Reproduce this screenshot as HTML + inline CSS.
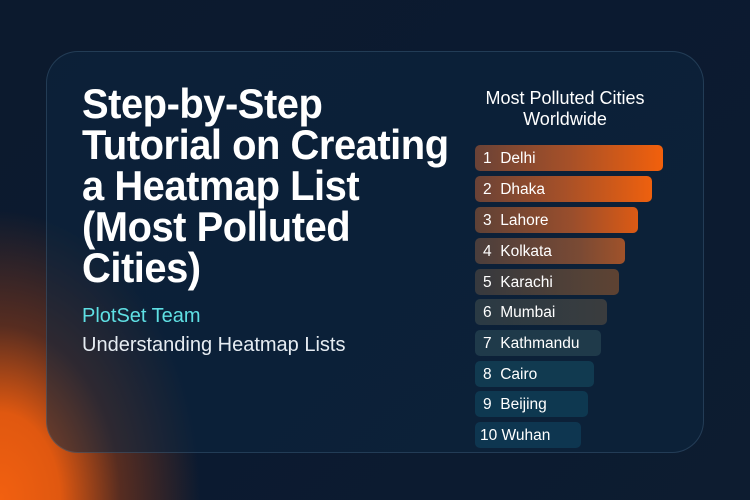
<!DOCTYPE html>
<html><head><meta charset="utf-8"><style>
body{margin:0;width:750px;height:500px;overflow:hidden;font-family:"Liberation Sans",sans-serif;
background:radial-gradient(ellipse 200px 290px at 0px 500px,#f26010 0%,#e05810 30%,rgba(150,60,20,0.55) 60%,rgba(12,26,46,0) 100%),linear-gradient(135deg,#0c1a2e,#0b1a30 50%,#0d1c30);position:relative}
.card{position:absolute;left:46px;top:51px;width:658px;height:402px;border-radius:32px;background:rgba(12,38,64,0.55);border:1px solid rgba(120,160,190,0.22);box-sizing:border-box}
h1{position:absolute;left:82px;top:83px;margin:0;color:#fff;font-size:42px;line-height:41px;font-weight:bold;letter-spacing:-0.5px;white-space:nowrap;transform:scaleX(0.95);transform-origin:0 0}
.team{position:absolute;left:82px;top:305px;color:#5fe0e4;font-size:20px}
.sub{position:absolute;left:82px;top:334px;color:#e6ecf2;font-size:20px}
.rt{position:absolute;left:455px;width:220px;top:88px;text-align:center;color:#fff;font-size:18px;line-height:21px}
.bar{position:absolute;left:475px;height:26px;border-radius:5px;color:#fff;font-size:15.5px;line-height:27px;padding-left:8px;box-sizing:border-box;white-space:nowrap}
</style></head><body>
<div class="card"></div>
<h1>Step-by-Step<br>Tutorial on Creating<br>a Heatmap List<br>(Most Polluted<br>Cities)</h1>
<div class="team">PlotSet Team</div>
<div class="sub">Understanding Heatmap Lists</div>
<div class="rt">Most Polluted Cities<br>Worldwide</div>
<div class="bar" style="top:145px;width:188px;background:linear-gradient(90deg,#6a4236,#a65028 50%,#f2600c)">1&nbsp; Delhi</div>
<div class="bar" style="top:176px;width:177px;background:linear-gradient(90deg,#6a4236,#a65028 50%,#ee600e)">2&nbsp; Dhaka</div>
<div class="bar" style="top:207px;width:163px;background:linear-gradient(90deg,#5e4136,#9a4e2c 60%,#dc5a14)">3&nbsp; Lahore</div>
<div class="bar" style="top:238px;width:150px;background:linear-gradient(90deg,#4a3e3c,#7a4a34 70%,#a0522a)">4&nbsp; Kolkata</div>
<div class="bar" style="top:269px;width:144px;background:linear-gradient(90deg,#36393e,#564236 80%,#5e4232)">5&nbsp; Karachi</div>
<div class="bar" style="top:299px;width:132px;background:linear-gradient(90deg,#2a3a44,#3a3c3e)">6&nbsp; Mumbai</div>
<div class="bar" style="top:330px;width:126px;background:#1f3a4a">7&nbsp; Kathmandu</div>
<div class="bar" style="top:361px;width:119px;background:#113a50">8&nbsp; Cairo</div>
<div class="bar" style="top:391px;width:113px;background:#0e3850">9&nbsp; Beijing</div>
<div class="bar" style="top:422px;width:106px;background:#0e3650;padding-left:5px">10 Wuhan</div>
</body></html>
